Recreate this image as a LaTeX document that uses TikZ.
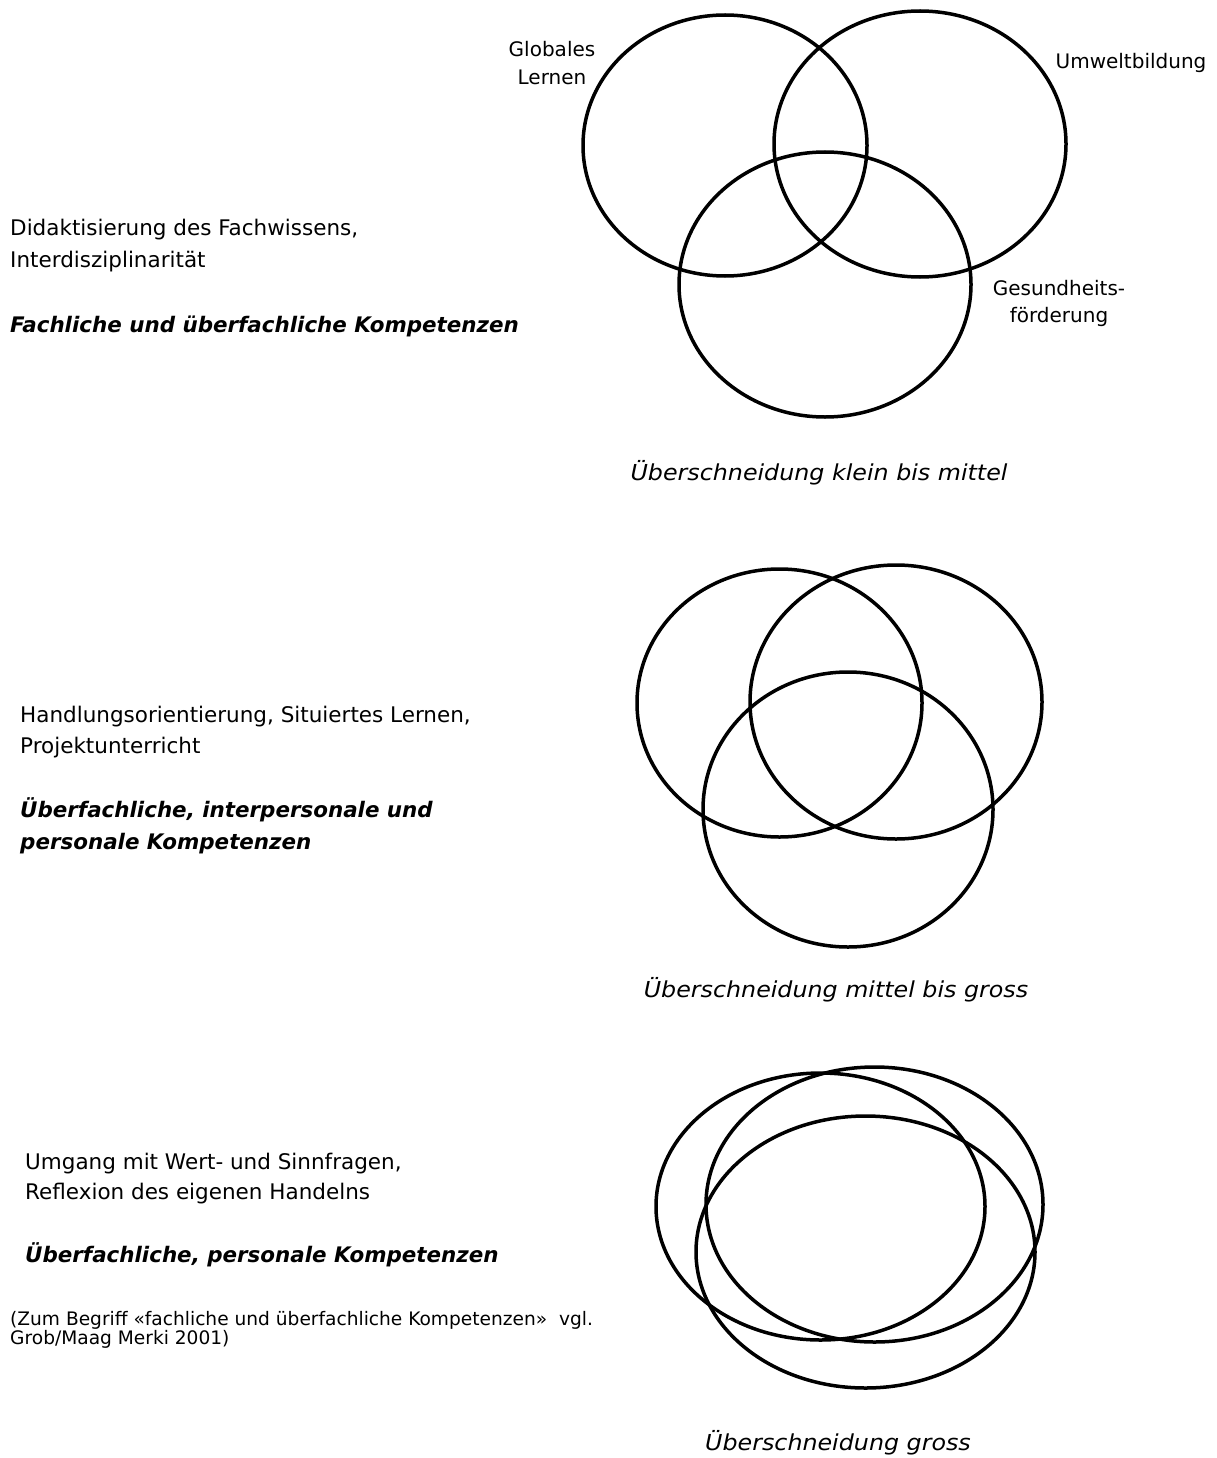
\documentclass[tikz,border=0pt]{standalone}
\usepackage{fontspec}
\setmainfont{DejaVu Sans}
\newfontfamily\capfont{DejaVu Sans}[FakeStretch=1.08]
\begin{document}
\begin{tikzpicture}[x=1pt,y=-1pt,
  ring/.style={draw=black,line width=3.5pt},
  txt/.style={anchor=base west,inner sep=0pt,font=\fontsize{21.5}{25}\selectfont},
  lbl/.style={anchor=base,inner sep=0pt,font=\fontsize{20}{24}\selectfont},
  kompetenz/.style={anchor=base west,inner sep=0pt,font=\fontsize{21.4}{25}\selectfont\bfseries\itshape},
  caption/.style={anchor=base,inner sep=0pt,font=\capfont\fontsize{22}{26}\selectfont\itshape},
  note/.style={anchor=base west,inner sep=0pt,font=\fontsize{18.6}{19}\selectfont}]
\useasboundingbox[fill=white] (0,0) rectangle (1217,1458);

% ---- top set
\draw[ring] (725,145.5) ellipse [x radius=142pt, y radius=130.5pt];
\draw[ring] (920,144) ellipse [x radius=146pt, y radius=133pt];
\draw[ring] (825,284.5) ellipse [x radius=146pt, y radius=132.5pt];
\node[lbl] (glob1) at (552,57) {Globales};
\node[lbl] (glob2) at (552,85) {Lernen};
\node[lbl] (umwelt) at (1131,69) {Umweltbildung};
\node[lbl] (ges1) at (1059,295) {Gesundheits-};
\node[lbl] (ges2) at (1059,322) {förderung};
\node[caption] (cap1) at (819,480) {Überschneidung klein bis mittel};

\node[txt] (t1a) at (10,235) {Didaktisierung des Fachwissens,};
\node[txt] (t1b) at (10,267) {Interdisziplinarität};
\node[kompetenz] (k1) at (10,332) {Fachliche und überfachliche Kompetenzen};

% ---- middle set
\draw[ring] (779.5,703) ellipse [x radius=142.5pt, y radius=134pt];
\draw[ring] (896,702) ellipse [x radius=146pt, y radius=137pt];
\draw[ring] (848,809.5) ellipse [x radius=145pt, y radius=137.5pt];
\node[caption] (cap2) at (836,997) {Überschneidung mittel bis gross};

\node[txt] (t2a) at (20,722) {Handlungsorientierung, Situiertes Lernen,};
\node[txt] (t2b) at (20,753) {Projektunterricht};
\node[kompetenz] (k2a) at (20,817) {Überfachliche, interpersonale und};
\node[kompetenz] (k2b) at (20,849) {personale Kompetenzen};

% ---- bottom set
\draw[ring] (820.5,1206.5) ellipse [x radius=164.5pt, y radius=133.5pt];
\draw[ring] (874.5,1204.5) ellipse [x radius=168.5pt, y radius=137.5pt];
\draw[ring] (865.5,1252) ellipse [x radius=169.5pt, y radius=136pt];
\node[caption] (cap3) at (838,1450) {Überschneidung gross};

\node[txt] (t3a) at (25,1169) {Umgang mit Wert- und Sinnfragen,};
\node[txt] (t3b) at (25,1199) {Reflexion des eigenen Handelns};
\node[kompetenz] (k3) at (25,1262) {Überfachliche, personale Kompetenzen};
\node[note] (n1) at (10,1325) {(Zum Begriff «fachliche und überfachliche Kompetenzen»\ \ vgl.};
\node[note] (n2) at (10,1344) {Grob/Maag Merki 2001)};
\end{tikzpicture}
\end{document}
